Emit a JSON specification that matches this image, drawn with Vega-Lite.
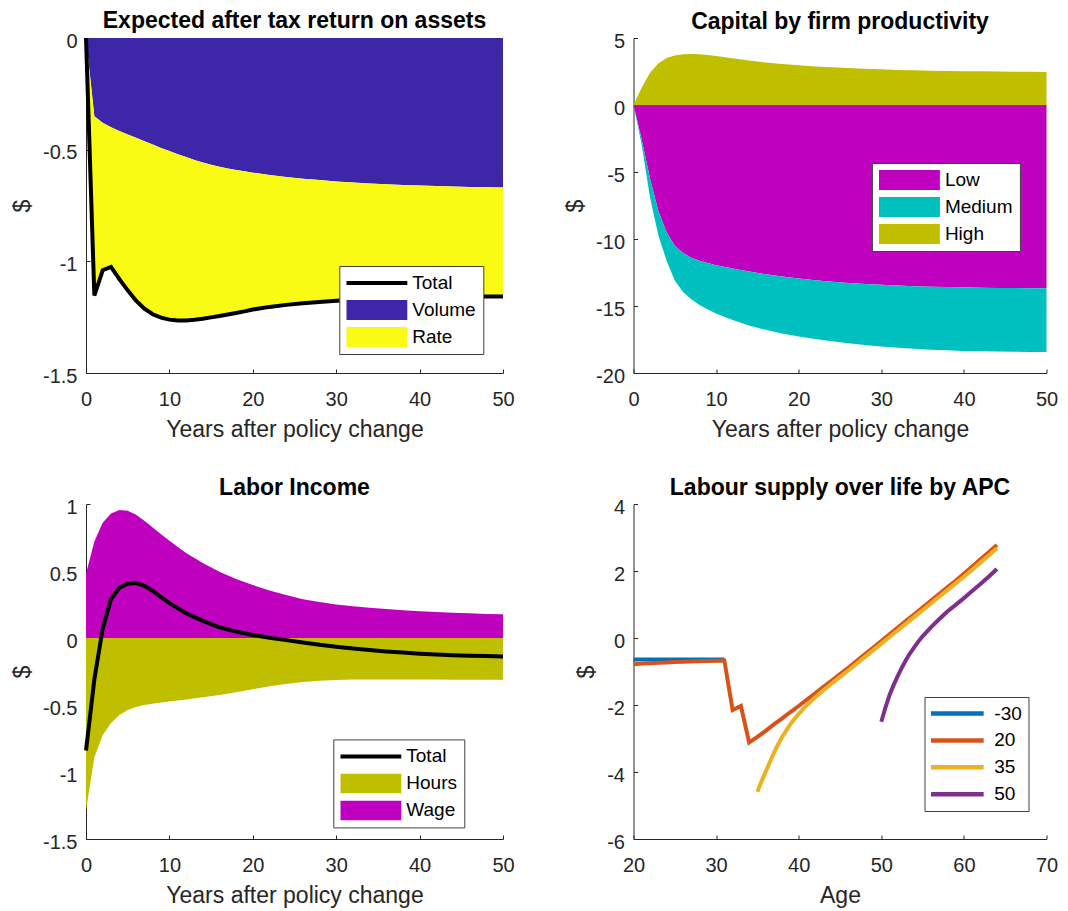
{
  "$schema": "https://vega.github.io/schema/vega-lite/v6.json",
  "background": "white",
  "padding": {"left": 11, "top": 10, "right": 10, "bottom": 10},
  "columns": 2,
  "spacing": {"row": 131, "column": 130.5},
  "bounds": "flush",
  "resolve": {"scale": {"color": "independent"}, "legend": {"color": "independent"}},
  "concat": [
    {
      "width": 417,
      "height": 335,
      "title": {"text": "Expected after tax return on assets"},
      "data": {"values": [
        {"t": 0, "volume": 0, "total": 0},
        {"t": 1, "volume": -0.350, "total": -1.153},
        {"t": 2, "volume": -0.380, "total": -1.040},
        {"t": 3, "volume": -0.400, "total": -1.025},
        {"t": 4, "volume": -0.416, "total": -1.080},
        {"t": 5, "volume": -0.432, "total": -1.130},
        {"t": 6, "volume": -0.447, "total": -1.176},
        {"t": 7, "volume": -0.462, "total": -1.212},
        {"t": 8, "volume": -0.477, "total": -1.237},
        {"t": 9, "volume": -0.492, "total": -1.252},
        {"t": 10, "volume": -0.506, "total": -1.261},
        {"t": 11, "volume": -0.520, "total": -1.265},
        {"t": 12, "volume": -0.533, "total": -1.265},
        {"t": 13, "volume": -0.546, "total": -1.262},
        {"t": 14, "volume": -0.557, "total": -1.257},
        {"t": 15, "volume": -0.567, "total": -1.251},
        {"t": 16, "volume": -0.576, "total": -1.245},
        {"t": 17, "volume": -0.584, "total": -1.238},
        {"t": 18, "volume": -0.591, "total": -1.231},
        {"t": 19, "volume": -0.597, "total": -1.224},
        {"t": 20, "volume": -0.603, "total": -1.216},
        {"t": 22, "volume": -0.613, "total": -1.204},
        {"t": 24, "volume": -0.622, "total": -1.195},
        {"t": 26, "volume": -0.630, "total": -1.188},
        {"t": 28, "volume": -0.636, "total": -1.182},
        {"t": 30, "volume": -0.642, "total": -1.177},
        {"t": 32, "volume": -0.647, "total": -1.173},
        {"t": 34, "volume": -0.651, "total": -1.169},
        {"t": 36, "volume": -0.655, "total": -1.166},
        {"t": 38, "volume": -0.658, "total": -1.164},
        {"t": 40, "volume": -0.661, "total": -1.162},
        {"t": 42, "volume": -0.663, "total": -1.161},
        {"t": 44, "volume": -0.665, "total": -1.160},
        {"t": 46, "volume": -0.667, "total": -1.159},
        {"t": 48, "volume": -0.668, "total": -1.158},
        {"t": 50, "volume": -0.669, "total": -1.158}
      ]},
      "encoding": {
        "x": {"field": "t", "type": "quantitative", "title": "Years after policy change",
              "scale": {"domain": [0, 50], "nice": false, "zero": false},
              "axis": {"values": [0, 10, 20, 30, 40, 50], "labelExpr": "'' + datum.value"}}
      },
      "layer": [
        {
          "mark": {"type": "area"},
          "encoding": {
            "y": {"field": "volume", "type": "quantitative", "title": "$",
                  "scale": {"domain": [-1.5, 0], "nice": false, "zero": false},
                  "axis": {"values": [-1.5, -1, -0.5, 0], "labelExpr": "'' + datum.value"}},
            "y2": {"datum": 0},
            "color": {"datum": "Volume",
                      "scale": {"domain": ["Total", "Volume", "Rate"], "range": ["#000000", "#3E26A8", "#F9FB15"]},
                      "legend": {"title": null, "orient": "none", "legendX": 253.3, "legendY": 228,
                                 "encode": {"symbols": {"update": {
                                   "shape": {"signal": "datum.value === 'Total' ? 'M-1,-0.0656H1V0.0656H-1Z' : 'M-1,-0.328H1V0.328H-1Z'"},
                                   "fill": {"signal": "datum.value === 'Total' ? '#000000' : datum.value === 'Volume' ? '#3E26A8' : '#F9FB15'"},
                                   "stroke": {"value": "transparent"},
                                   "strokeWidth": {"value": 0},
                                   "opacity": {"value": 1},
                                   "fillOpacity": {"value": 1}
                                 }}}}}
          }
        },
        {
          "mark": {"type": "area"},
          "encoding": {
            "y": {"field": "total", "type": "quantitative", "title": "$",
                  "scale": {"domain": [-1.5, 0], "nice": false, "zero": false}},
            "y2": {"field": "volume"},
            "color": {"datum": "Rate"}
          }
        },
        {
          "mark": {"type": "line", "strokeWidth": 4},
          "encoding": {
            "y": {"field": "total", "type": "quantitative", "title": "$",
                  "scale": {"domain": [-1.5, 0], "nice": false, "zero": false}},
            "color": {"datum": "Total"}
          }
        }
      ]
    },
    {
      "width": 413,
      "height": 335,
      "title": {"text": "Capital by firm productivity"},
      "data": {"values": [
        {"t": 0, "high": 0, "low": 0, "bottom": 0},
        {"t": 1, "high": 1.30, "low": -2.6, "bottom": -3.0},
        {"t": 2, "high": 2.40, "low": -5.5, "bottom": -6.9},
        {"t": 3, "high": 3.10, "low": -7.9, "bottom": -9.7},
        {"t": 4, "high": 3.50, "low": -9.5, "bottom": -11.6},
        {"t": 5, "high": 3.70, "low": -10.5, "bottom": -13.1},
        {"t": 6, "high": 3.78, "low": -11.05, "bottom": -13.95},
        {"t": 7, "high": 3.80, "low": -11.4, "bottom": -14.5},
        {"t": 8, "high": 3.78, "low": -11.63, "bottom": -14.93},
        {"t": 9, "high": 3.73, "low": -11.8, "bottom": -15.27},
        {"t": 10, "high": 3.66, "low": -11.95, "bottom": -15.56},
        {"t": 12, "high": 3.48, "low": -12.2, "bottom": -16.05},
        {"t": 14, "high": 3.32, "low": -12.43, "bottom": -16.45},
        {"t": 16, "high": 3.18, "low": -12.63, "bottom": -16.78},
        {"t": 18, "high": 3.06, "low": -12.8, "bottom": -17.05},
        {"t": 20, "high": 2.96, "low": -12.95, "bottom": -17.27},
        {"t": 22, "high": 2.88, "low": -13.08, "bottom": -17.46},
        {"t": 24, "high": 2.82, "low": -13.19, "bottom": -17.63},
        {"t": 26, "high": 2.76, "low": -13.28, "bottom": -17.78},
        {"t": 28, "high": 2.71, "low": -13.36, "bottom": -17.91},
        {"t": 30, "high": 2.66, "low": -13.42, "bottom": -18.02},
        {"t": 32, "high": 2.62, "low": -13.47, "bottom": -18.11},
        {"t": 34, "high": 2.59, "low": -13.52, "bottom": -18.19},
        {"t": 36, "high": 2.56, "low": -13.56, "bottom": -18.26},
        {"t": 38, "high": 2.54, "low": -13.59, "bottom": -18.31},
        {"t": 40, "high": 2.52, "low": -13.61, "bottom": -18.35},
        {"t": 42, "high": 2.51, "low": -13.63, "bottom": -18.38},
        {"t": 44, "high": 2.50, "low": -13.65, "bottom": -18.40},
        {"t": 46, "high": 2.49, "low": -13.66, "bottom": -18.42},
        {"t": 48, "high": 2.48, "low": -13.67, "bottom": -18.43},
        {"t": 50, "high": 2.47, "low": -13.68, "bottom": -18.44}
      ]},
      "encoding": {
        "x": {"field": "t", "type": "quantitative", "title": "Years after policy change",
              "scale": {"domain": [0, 50], "nice": false, "zero": false},
              "axis": {"values": [0, 10, 20, 30, 40, 50], "labelExpr": "'' + datum.value"}}
      },
      "layer": [
        {
          "mark": {"type": "area"},
          "encoding": {
            "y": {"field": "high", "type": "quantitative", "title": "$",
                  "scale": {"domain": [-20, 5], "nice": false, "zero": false},
                  "axis": {"values": [-20, -15, -10, -5, 0, 5], "labelExpr": "'' + datum.value"}},
            "y2": {"datum": 0},
            "color": {"datum": "High",
                      "scale": {"domain": ["Low", "Medium", "High"], "range": ["#BF00BF", "#00BFBF", "#BFBF00"]},
                      "legend": {"title": null, "orient": "none", "legendX": 238.4, "legendY": 125,
                                 "symbolType": "M-1,-0.328H1V0.328H-1Z"}}
          }
        },
        {
          "mark": {"type": "area"},
          "encoding": {
            "y": {"field": "low", "type": "quantitative", "title": "$",
                  "scale": {"domain": [-20, 5], "nice": false, "zero": false}},
            "y2": {"datum": 0},
            "color": {"datum": "Low"}
          }
        },
        {
          "mark": {"type": "area"},
          "encoding": {
            "y": {"field": "bottom", "type": "quantitative", "title": "$",
                  "scale": {"domain": [-20, 5], "nice": false, "zero": false}},
            "y2": {"field": "low"},
            "color": {"datum": "Medium"}
          }
        }
      ]
    },
    {
      "width": 417,
      "height": 335,
      "title": {"text": "Labor Income"},
      "data": {"values": [
        {"t": 0, "wage": 0.48, "hours": -1.29, "total": -0.84},
        {"t": 1, "wage": 0.72, "hours": -0.89, "total": -0.31},
        {"t": 2, "wage": 0.86, "hours": -0.725, "total": 0.07},
        {"t": 3, "wage": 0.93, "hours": -0.635, "total": 0.29},
        {"t": 4, "wage": 0.955, "hours": -0.575, "total": 0.375},
        {"t": 5, "wage": 0.95, "hours": -0.538, "total": 0.405},
        {"t": 6, "wage": 0.92, "hours": -0.515, "total": 0.41},
        {"t": 7, "wage": 0.875, "hours": -0.50, "total": 0.39},
        {"t": 8, "wage": 0.825, "hours": -0.49, "total": 0.352},
        {"t": 9, "wage": 0.775, "hours": -0.482, "total": 0.305},
        {"t": 10, "wage": 0.725, "hours": -0.474, "total": 0.26},
        {"t": 12, "wage": 0.635, "hours": -0.459, "total": 0.185},
        {"t": 14, "wage": 0.56, "hours": -0.443, "total": 0.128},
        {"t": 16, "wage": 0.495, "hours": -0.425, "total": 0.08},
        {"t": 18, "wage": 0.44, "hours": -0.404, "total": 0.048},
        {"t": 20, "wage": 0.395, "hours": -0.382, "total": 0.023},
        {"t": 22, "wage": 0.355, "hours": -0.36, "total": 0.002},
        {"t": 24, "wage": 0.32, "hours": -0.343, "total": -0.016},
        {"t": 26, "wage": 0.29, "hours": -0.329, "total": -0.034},
        {"t": 28, "wage": 0.268, "hours": -0.319, "total": -0.051},
        {"t": 30, "wage": 0.25, "hours": -0.313, "total": -0.066},
        {"t": 32, "wage": 0.237, "hours": -0.31, "total": -0.079},
        {"t": 34, "wage": 0.226, "hours": -0.309, "total": -0.09},
        {"t": 36, "wage": 0.216, "hours": -0.309, "total": -0.10},
        {"t": 38, "wage": 0.207, "hours": -0.309, "total": -0.109},
        {"t": 40, "wage": 0.20, "hours": -0.31, "total": -0.117},
        {"t": 42, "wage": 0.194, "hours": -0.31, "total": -0.123},
        {"t": 44, "wage": 0.189, "hours": -0.311, "total": -0.128},
        {"t": 46, "wage": 0.184, "hours": -0.311, "total": -0.132},
        {"t": 48, "wage": 0.18, "hours": -0.311, "total": -0.135},
        {"t": 50, "wage": 0.177, "hours": -0.311, "total": -0.138}
      ]},
      "encoding": {
        "x": {"field": "t", "type": "quantitative", "title": "Years after policy change",
              "scale": {"domain": [0, 50], "nice": false, "zero": false},
              "axis": {"values": [0, 10, 20, 30, 40, 50], "labelExpr": "'' + datum.value"}}
      },
      "layer": [
        {
          "mark": {"type": "area"},
          "encoding": {
            "y": {"field": "wage", "type": "quantitative", "title": "$",
                  "scale": {"domain": [-1.5, 1], "nice": false, "zero": false},
                  "axis": {"values": [-1.5, -1, -0.5, 0, 0.5, 1], "labelExpr": "'' + datum.value"}},
            "y2": {"datum": 0},
            "color": {"datum": "Wage",
                      "scale": {"domain": ["Total", "Hours", "Wage"], "range": ["#000000", "#BFBF00", "#BF00BF"]},
                      "legend": {"title": null, "orient": "none", "legendX": 247.3, "legendY": 235.4,
                                 "encode": {"symbols": {"update": {
                                   "shape": {"signal": "datum.value === 'Total' ? 'M-1,-0.0656H1V0.0656H-1Z' : 'M-1,-0.328H1V0.328H-1Z'"},
                                   "fill": {"signal": "datum.value === 'Total' ? '#000000' : datum.value === 'Hours' ? '#BFBF00' : '#BF00BF'"},
                                   "stroke": {"value": "transparent"},
                                   "strokeWidth": {"value": 0},
                                   "opacity": {"value": 1},
                                   "fillOpacity": {"value": 1}
                                 }}}}}
          }
        },
        {
          "mark": {"type": "area"},
          "encoding": {
            "y": {"field": "hours", "type": "quantitative", "title": "$",
                  "scale": {"domain": [-1.5, 1], "nice": false, "zero": false}},
            "y2": {"datum": 0},
            "color": {"datum": "Hours"}
          }
        },
        {
          "mark": {"type": "line", "strokeWidth": 4},
          "encoding": {
            "y": {"field": "total", "type": "quantitative", "title": "$",
                  "scale": {"domain": [-1.5, 1], "nice": false, "zero": false}},
            "color": {"datum": "Total"}
          }
        }
      ]
    },
    {
      "width": 413,
      "height": 335,
      "title": {"text": "Labour supply over life by APC"},
      "data": {"values": [
        {"apc": "-30", "age": 20, "v": -0.64},
        {"apc": "-30", "age": 22, "v": -0.64},
        {"apc": "-30", "age": 24, "v": -0.64},
        {"apc": "-30", "age": 26, "v": -0.64},
        {"apc": "-30", "age": 28, "v": -0.64},
        {"apc": "-30", "age": 30, "v": -0.64},
        {"apc": "-30", "age": 31, "v": -0.64},
        {"apc": "20", "age": 20, "v": -0.78},
        {"apc": "20", "age": 21, "v": -0.765},
        {"apc": "20", "age": 22, "v": -0.752},
        {"apc": "20", "age": 23, "v": -0.74},
        {"apc": "20", "age": 24, "v": -0.73},
        {"apc": "20", "age": 25, "v": -0.72},
        {"apc": "20", "age": 26, "v": -0.71},
        {"apc": "20", "age": 27, "v": -0.70},
        {"apc": "20", "age": 28, "v": -0.692},
        {"apc": "20", "age": 29, "v": -0.685},
        {"apc": "20", "age": 30, "v": -0.678},
        {"apc": "20", "age": 31, "v": -0.67},
        {"apc": "20", "age": 32, "v": -2.15},
        {"apc": "20", "age": 33, "v": -2.03},
        {"apc": "20", "age": 34, "v": -3.12},
        {"apc": "20", "age": 35, "v": -2.95},
        {"apc": "20", "age": 36, "v": -2.77},
        {"apc": "20", "age": 37, "v": -2.58},
        {"apc": "20", "age": 38, "v": -2.40},
        {"apc": "20", "age": 39, "v": -2.21},
        {"apc": "20", "age": 40, "v": -2.03},
        {"apc": "20", "age": 41, "v": -1.84},
        {"apc": "20", "age": 42, "v": -1.65},
        {"apc": "20", "age": 43, "v": -1.46},
        {"apc": "20", "age": 44, "v": -1.27},
        {"apc": "20", "age": 45, "v": -1.08},
        {"apc": "20", "age": 46, "v": -0.89},
        {"apc": "20", "age": 47, "v": -0.69},
        {"apc": "20", "age": 48, "v": -0.49},
        {"apc": "20", "age": 49, "v": -0.29},
        {"apc": "20", "age": 50, "v": -0.09},
        {"apc": "20", "age": 51, "v": 0.11},
        {"apc": "20", "age": 52, "v": 0.31},
        {"apc": "20", "age": 53, "v": 0.51},
        {"apc": "20", "age": 54, "v": 0.71},
        {"apc": "20", "age": 55, "v": 0.91},
        {"apc": "20", "age": 56, "v": 1.11},
        {"apc": "20", "age": 57, "v": 1.31},
        {"apc": "20", "age": 58, "v": 1.51},
        {"apc": "20", "age": 59, "v": 1.71},
        {"apc": "20", "age": 60, "v": 1.92},
        {"apc": "20", "age": 61, "v": 2.13},
        {"apc": "20", "age": 62, "v": 2.35},
        {"apc": "20", "age": 63, "v": 2.56},
        {"apc": "20", "age": 64, "v": 2.78},
        {"apc": "35", "age": 35, "v": -4.59},
        {"apc": "35", "age": 35.5, "v": -4.28},
        {"apc": "35", "age": 36, "v": -3.99},
        {"apc": "35", "age": 36.5, "v": -3.71},
        {"apc": "35", "age": 37, "v": -3.43},
        {"apc": "35", "age": 37.5, "v": -3.18},
        {"apc": "35", "age": 38, "v": -2.95},
        {"apc": "35", "age": 38.5, "v": -2.76},
        {"apc": "35", "age": 39, "v": -2.57},
        {"apc": "35", "age": 39.5, "v": -2.41},
        {"apc": "35", "age": 40, "v": -2.27},
        {"apc": "35", "age": 41, "v": -2.00},
        {"apc": "35", "age": 42, "v": -1.77},
        {"apc": "35", "age": 43, "v": -1.56},
        {"apc": "35", "age": 44, "v": -1.36},
        {"apc": "35", "age": 45, "v": -1.16},
        {"apc": "35", "age": 46, "v": -0.97},
        {"apc": "35", "age": 47, "v": -0.77},
        {"apc": "35", "age": 48, "v": -0.57},
        {"apc": "35", "age": 49, "v": -0.37},
        {"apc": "35", "age": 50, "v": -0.17},
        {"apc": "35", "age": 51, "v": 0.03},
        {"apc": "35", "age": 52, "v": 0.23},
        {"apc": "35", "age": 53, "v": 0.43},
        {"apc": "35", "age": 54, "v": 0.63},
        {"apc": "35", "age": 55, "v": 0.83},
        {"apc": "35", "age": 56, "v": 1.03},
        {"apc": "35", "age": 57, "v": 1.23},
        {"apc": "35", "age": 58, "v": 1.43},
        {"apc": "35", "age": 59, "v": 1.63},
        {"apc": "35", "age": 60, "v": 1.83},
        {"apc": "35", "age": 61, "v": 2.04},
        {"apc": "35", "age": 62, "v": 2.25},
        {"apc": "35", "age": 63, "v": 2.46},
        {"apc": "35", "age": 64, "v": 2.68},
        {"apc": "50", "age": 50, "v": -2.5},
        {"apc": "50", "age": 50.5, "v": -2.08},
        {"apc": "50", "age": 51, "v": -1.70},
        {"apc": "50", "age": 51.5, "v": -1.40},
        {"apc": "50", "age": 52, "v": -1.13},
        {"apc": "50", "age": 52.5, "v": -0.88},
        {"apc": "50", "age": 53, "v": -0.65},
        {"apc": "50", "age": 53.5, "v": -0.45},
        {"apc": "50", "age": 54, "v": -0.27},
        {"apc": "50", "age": 54.5, "v": -0.10},
        {"apc": "50", "age": 55, "v": 0.05},
        {"apc": "50", "age": 56, "v": 0.32},
        {"apc": "50", "age": 57, "v": 0.56},
        {"apc": "50", "age": 58, "v": 0.79},
        {"apc": "50", "age": 59, "v": 0.99},
        {"apc": "50", "age": 60, "v": 1.19},
        {"apc": "50", "age": 61, "v": 1.40},
        {"apc": "50", "age": 62, "v": 1.61},
        {"apc": "50", "age": 63, "v": 1.83},
        {"apc": "50", "age": 64, "v": 2.06}
      ]},
      "mark": {"type": "line", "strokeWidth": 4},
      "encoding": {
        "x": {"field": "age", "type": "quantitative", "title": "Age",
              "scale": {"domain": [20, 70], "nice": false, "zero": false},
              "axis": {"values": [20, 30, 40, 50, 60, 70], "labelExpr": "'' + datum.value"}},
        "y": {"field": "v", "type": "quantitative", "title": "$",
              "scale": {"domain": [-6, 4], "nice": false, "zero": false},
              "axis": {"values": [-6, -4, -2, 0, 2, 4], "labelExpr": "'' + datum.value"}},
        "color": {"field": "apc", "type": "nominal",
                  "scale": {"domain": ["-30", "20", "35", "50"], "range": ["#0072BD", "#D95319", "#EDB120", "#7E2F8E"]},
                  "legend": {"title": null, "orient": "none", "legendX": 291, "legendY": 193,
                             "symbolType": "stroke", "symbolSize": 2777, "symbolStrokeWidth": 4.5,
                             "symbolOffset": -2.7, "labelOffset": 8, "padding": 6.5, "rowPadding": 6.9}}
      }
    }
  ],
  "config": {
    "view": {"stroke": null},
    "font": "Liberation Sans",
    "axis": {
      "grid": false,
      "labelFont": "Liberation Sans",
      "labelFontSize": 20,
      "labelColor": "#262626",
      "titleFont": "Liberation Sans",
      "titleFontSize": 23,
      "titleFontWeight": "normal",
      "titleColor": "#262626",
      "domainColor": "#262626",
      "tickColor": "#262626",
      "domainWidth": 1,
      "tickWidth": 1,
      "tickSize": -4,
      "labelFlush": false,
      "labelOverlap": false,
      "zindex": 1
    },
    "axisX": {"labelPadding": 20.5, "titlePadding": 9},
    "axisY": {"labelPadding": 13, "titlePadding": 8, "labelOffset": 3},
    "title": {"font": "Liberation Sans", "fontSize": 23, "fontWeight": "bold", "color": "#000000", "offset": -3, "frame": "group", "anchor": "middle"},
    "legend": {
      "labelFont": "Liberation Sans",
      "labelFontSize": 19,
      "labelColor": "#000000",
      "labelLimit": 400,
      "strokeColor": "#404040",
      "strokeWidth": 1,
      "fillColor": "#ffffff",
      "padding": 7,
      "rowPadding": 7,
      "clipHeight": 20,
      "labelOffset": 5,
      "symbolSize": 3721,
      "symbolStrokeWidth": 0,
      "symbolOpacity": 1,
      "cornerRadius": 0
    }
  }
}
